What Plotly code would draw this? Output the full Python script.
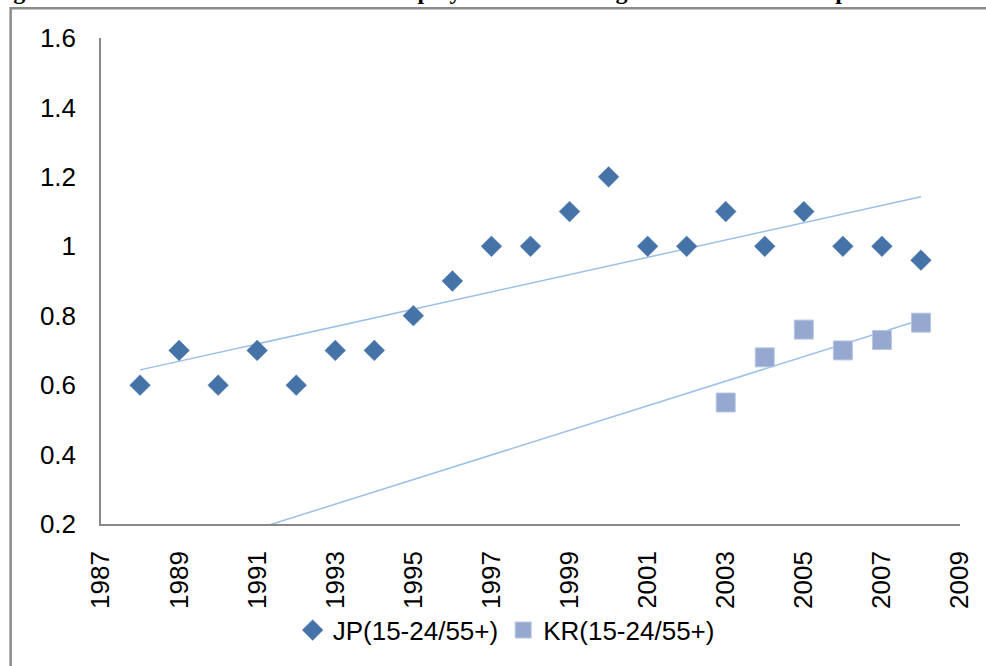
import numpy as np
import plotly.graph_objects as go

# Ratio of youth (15-24) to older (55+) unemployment rates
jp_years = [1988, 1989, 1990, 1991, 1992, 1993, 1994, 1995, 1996, 1997, 1998,
            1999, 2000, 2001, 2002, 2003, 2004, 2005, 2006, 2007, 2008]
jp_ratio = [0.6, 0.7, 0.6, 0.7, 0.6, 0.7, 0.7, 0.8, 0.9, 1.0, 1.0,
            1.1, 1.2, 1.0, 1.0, 1.1, 1.0, 1.1, 1.0, 1.0, 0.96]

kr_years = [2003, 2004, 2005, 2006, 2007, 2008]
kr_ratio = [0.55, 0.68, 0.76, 0.70, 0.73, 0.78]

jp_name = "JP(15-24/55+)"
kr_name = "KR(15-24/55+)"
title_text = "Figure 3. Trends in the Ratio of the Unemployment Rate of Ages 15-24 to 55+ in Japan and Korea"

FONT = "Liberation Sans, Arial, sans-serif"
JP_COLOR = "#4572A7"
KR_COLOR = "#95A8CF"
TREND_COLOR = "#9CC0E8"

# least-squares linear trends
jp_fit = np.polyfit(jp_years, jp_ratio, 1)
kr_fit = np.polyfit(kr_years, kr_ratio, 1)
jp_trend_x = [jp_years[0], jp_years[-1]]
kr_trend_x = [jp_years[0], kr_years[-1]]  # Korean trend projected backwards

fig = go.Figure()

fig.add_trace(go.Scatter(
    x=jp_trend_x, y=np.polyval(jp_fit, jp_trend_x), mode="lines",
    line=dict(color=TREND_COLOR, width=1.5), showlegend=False, hoverinfo="skip"))
fig.add_trace(go.Scatter(
    x=kr_trend_x, y=np.polyval(kr_fit, kr_trend_x), mode="lines",
    line=dict(color=TREND_COLOR, width=1.5), showlegend=False, hoverinfo="skip"))

fig.add_trace(go.Scatter(
    x=jp_years, y=jp_ratio, mode="markers", name=jp_name,
    marker=dict(symbol="diamond", size=16, color=JP_COLOR,
                line=dict(width=0.5, color="#5A84B8"))))
fig.add_trace(go.Scatter(
    x=kr_years, y=kr_ratio, mode="markers", name=kr_name,
    marker=dict(symbol="square", size=19, color=KR_COLOR,
                line=dict(width=1, color="#B8C7E2"))))

L, R, T, B = 101, 20, 38, 138
W, H = 986, 666
pw, ph = W - L - R, H - T - B


def px_x(p):
    return (p - L) / pw


def px_y(p):
    return (H - B - p) / ph


fig.update_layout(
    width=W, height=H,
    margin=dict(l=L, r=R, t=T, b=B),
    paper_bgcolor="white", plot_bgcolor="white",
    font=dict(family=FONT, size=26, color="#000000"),
    showlegend=True,
    legend=dict(orientation="h", x=0.4717, xanchor="center",
                y=px_y(635), yanchor="middle",
                font=dict(family=FONT, size=26, color="#000000"),
                itemwidth=30, tracegroupgap=0),
    xaxis=dict(range=[1987, 2009], tick0=1987, dtick=2, tickangle=-90,
               showgrid=False, zeroline=False, showline=True,
               linecolor="#888888", linewidth=1.5, ticks="",
               ticklabelstandoff=15,
               tickfont=dict(family=FONT, size=26, color="#000000")),
    yaxis=dict(range=[0.2, 1.6], dtick=0.2, tick0=0.2,
               tickvals=[0.2, 0.4, 0.6, 0.8, 1.0, 1.2, 1.4, 1.6],
               ticktext=["0.2", "0.4", "0.6", "0.8", "1", "1.2", "1.4", "1.6"],
               showgrid=False, zeroline=False, showline=True,
               linecolor="#888888", linewidth=1.5, ticks="",
               ticklabelstandoff=18,
               tickfont=dict(family=FONT, size=26, color="#000000")),
    shapes=[dict(type="rect", xref="paper", yref="paper",
                 x0=px_x(10), x1=px_x(1100), y0=px_y(800), y1=px_y(8),
                 line=dict(color="#8C8C8C", width=2.5), fillcolor="rgba(0,0,0,0)")],
    annotations=[dict(text="<b>" + title_text + "</b>", xref="paper", yref="paper",
                      x=px_x(493), y=px_y(6), xanchor="center", yanchor="bottom",
                      showarrow=False,
                      font=dict(family="Liberation Serif, Times New Roman, serif",
                                size=24, color="#000000"))],
)

fig.write_html("out.html")
